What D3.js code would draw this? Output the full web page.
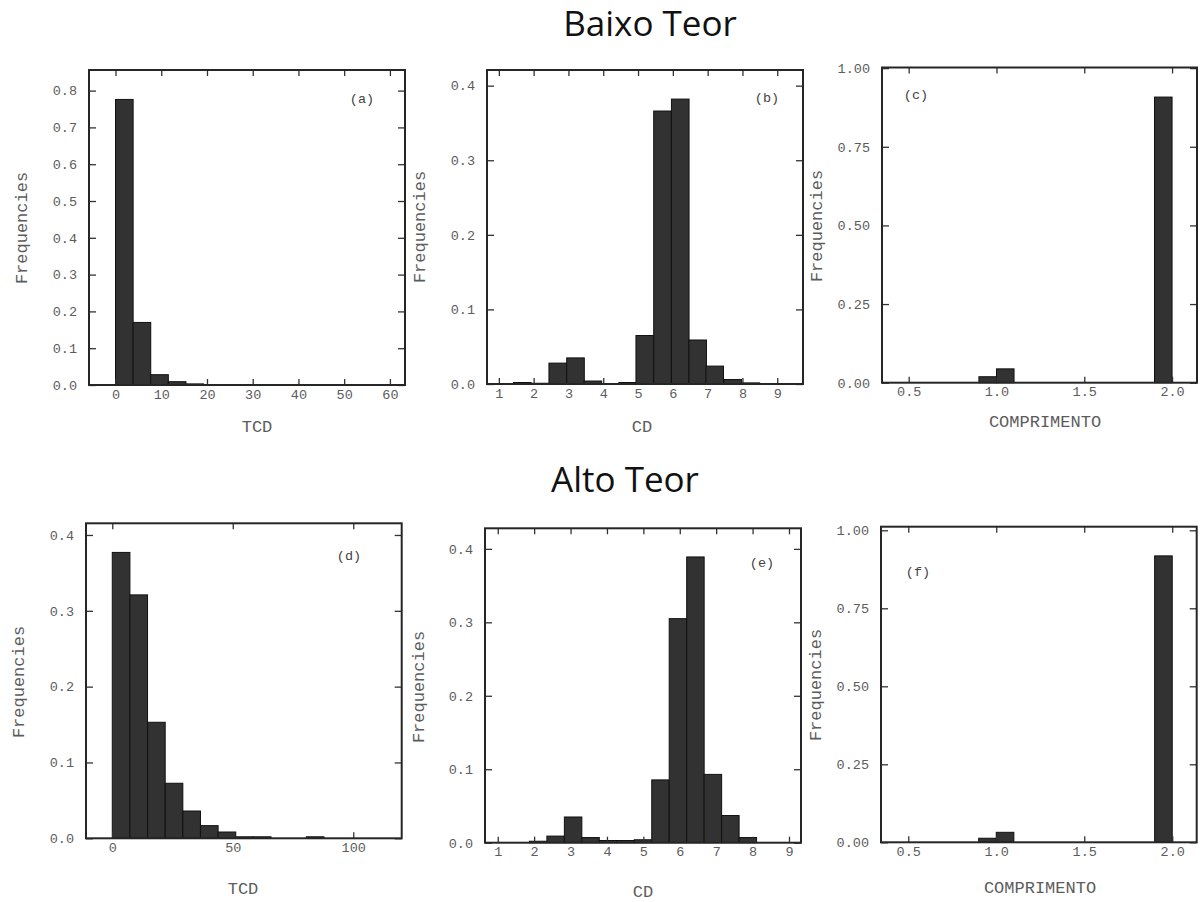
<!DOCTYPE html>
<html>
<head>
<meta charset="utf-8">
<script src="https://cdn.jsdelivr.net/npm/d3@7"></script>
<style>
  html, body { margin: 0; padding: 0; background: #ffffff; }
  svg { display: block; }
</style>
</head>
<body>
<svg id="chart" width="1202" height="902"></svg>
<script>
// ---- Histogram data: lower bin edges, bin widths and relative frequencies ----

// Baixo Teor
const tcdBaixoBins  = [0, 3.85, 7.7, 11.55, 15.4, 19.25];
const tcdBaixoWidth = 3.85;
const tcdBaixoFreq  = [0.776, 0.170, 0.028, 0.009, 0.003, 0.001];

const cdBaixoBins  = [1.42, 1.93, 2.44, 2.95, 3.45, 3.95, 4.45, 4.94, 5.45, 5.96, 6.46, 6.95, 7.47, 7.99];
const cdBaixoWidth = 0.506;
const cdBaixoFreq  = [0.002, 0.001, 0.028, 0.035, 0.004, 0, 0.002, 0.065, 0.366, 0.382, 0.059, 0.024, 0.006, 0.0015];

const compBaixoBins  = [0.9, 1.0, 1.9];
const compBaixoWidth = 0.1;
const compBaixoFreq  = [0.019, 0.044, 0.908];

// Alto Teor
const tcdAltoBins  = [0, 7.32, 14.64, 21.96, 29.28, 36.6, 43.92, 51.24, 58.56, 65.88, 73.2, 80.52];
const tcdAltoWidth = 7.32;
const tcdAltoFreq  = [0.377, 0.321, 0.153, 0.0726, 0.036, 0.0167, 0.0083, 0.002, 0.002, 0, 0, 0.002];

const cdAltoBins  = [1.87, 2.35, 2.83, 3.31, 3.79, 4.27, 4.75, 5.23, 5.71, 6.19, 6.67, 7.15, 7.63];
const cdAltoWidth = 0.48;
const cdAltoFreq  = [0.002, 0.009, 0.035, 0.007, 0.003, 0.003, 0.004, 0.0855, 0.305, 0.389, 0.093, 0.037, 0.007];

const compAltoBins  = [0.9, 1.0, 1.9];
const compAltoWidth = 0.1;
const compAltoFreq  = [0.013, 0.032, 0.918];

// ---- Tick values ----
const tcdBaixoTicks = [0, 10, 20, 30, 40, 50, 60];
const tcdAltoTicks  = [0, 50, 100];
const cdTicks       = [1, 2, 3, 4, 5, 6, 7, 8, 9];
const compTicks     = [0.5, 1.0, 1.5, 2.0];
const freqTicksHigh = [0, 0.1, 0.2, 0.3, 0.4, 0.5, 0.6, 0.7, 0.8];
const freqTicksLow  = [0, 0.1, 0.2, 0.3, 0.4];
const freqTicksUnit = [0, 0.25, 0.5, 0.75, 1.0];

const groupTitles = ["Baixo Teor", "Alto Teor"];
const yAxisTitle = "Frequencies";

// ---- Panel layout ----
const panels = [
  { tag: "(a)", box: [89, 70, 405, 385], xDom: [-5.8, 63.3], yDom: [0, 0.856],
    bins: tcdBaixoBins, width: tcdBaixoWidth, freq: tcdBaixoFreq,
    xTicks: tcdBaixoTicks, xFmt: d3.format("d"), yTicks: freqTicksHigh, yFmt: d3.format(".1f"),
    xLabel: "TCD", xLabelAt: [257, 426], yLabelAt: [21, 228], tagAt: [362, 98] },
  { tag: "(b)", box: [487, 70, 803, 384], xDom: [0.66, 9.74], yDom: [0, 0.421],
    bins: cdBaixoBins, width: cdBaixoWidth, freq: cdBaixoFreq,
    xTicks: cdTicks, xFmt: d3.format("d"), yTicks: freqTicksLow, yFmt: d3.format(".1f"),
    xLabel: "CD", xLabelAt: [642, 426], yLabelAt: [419, 227], tagAt: [767, 97] },
  { tag: "(c)", box: [882, 67.5, 1197, 382.7], xDom: [0.348, 2.142], yDom: [0, 1.002],
    bins: compBaixoBins, width: compBaixoWidth, freq: compBaixoFreq,
    xTicks: compTicks, xFmt: d3.format(".1f"), yTicks: freqTicksUnit, yFmt: d3.format(".2f"),
    xLabel: "COMPRIMENTO", xLabelAt: [1045, 421], yLabelAt: [816, 226], tagAt: [916, 94] },
  { tag: "(d)", box: [86, 523.3, 401.7, 838.3], xDom: [-10.9, 120.1], yDom: [0, 0.4154],
    bins: tcdAltoBins, width: tcdAltoWidth, freq: tcdAltoFreq,
    xTicks: tcdAltoTicks, xFmt: d3.format("d"), yTicks: freqTicksLow, yFmt: d3.format(".1f"),
    xLabel: "TCD", xLabelAt: [243, 888], yLabelAt: [18, 682], tagAt: [349, 555] },
  { tag: "(e)", box: [485, 528.3, 801, 842.7], xDom: [0.65, 9.33], yDom: [0, 0.428],
    bins: cdAltoBins, width: cdAltoWidth, freq: cdAltoFreq,
    xTicks: cdTicks, xFmt: d3.format("d"), yTicks: freqTicksLow, yFmt: d3.format(".1f"),
    xLabel: "CD", xLabelAt: [643, 891], yLabelAt: [418, 687], tagAt: [762, 562] },
  { tag: "(f)", box: [881, 526.7, 1196.7, 842.3], xDom: [0.345, 2.139], yDom: [0, 1.0115],
    bins: compAltoBins, width: compAltoWidth, freq: compAltoFreq,
    xTicks: compTicks, xFmt: d3.format(".1f"), yTicks: freqTicksUnit, yFmt: d3.format(".2f"),
    xLabel: "COMPRIMENTO", xLabelAt: [1040, 887], yLabelAt: [815, 685], tagAt: [918, 571] }
];

const MONO = "'Liberation Mono', 'DejaVu Sans Mono', monospace";
const TEXT_GREY = "#5c5c5c";
const svg = d3.select("#chart");

// Group titles
const titleAt = [[650, 36], [625, 492]];
groupTitles.forEach((t, i) => {
  svg.append("text")
    .attr("x", titleAt[i][0]).attr("y", titleAt[i][1])
    .attr("text-anchor", "middle")
    .attr("font-family", "'Open Sans', 'Noto Sans', sans-serif")
    .attr("font-size", 35)
    .attr("fill", "#111")
    .text(t);
});

panels.forEach(p => {
  const [x0, y0, x1, y1] = p.box;
  const x = d3.scaleLinear().domain(p.xDom).range([x0, x1]);
  const y = d3.scaleLinear().domain(p.yDom).range([y1, y0]);
  const g = svg.append("g");

  // bars
  g.selectAll("rect.bar")
    .data(p.bins.map((b, i) => ({ x0: b, x1: b + p.width, v: p.freq[i] })))
    .join("rect")
    .attr("class", "bar")
    .attr("x", d => x(d.x0))
    .attr("width", d => x(d.x1) - x(d.x0))
    .attr("y", d => y(d.v))
    .attr("height", d => y(0) - y(d.v))
    .attr("fill", "#323232")
    .attr("stroke", "#111")
    .attr("stroke-width", 1);

  const styleAxis = sel => {
    sel.select(".domain").remove();
    sel.selectAll(".tick line").attr("stroke", "#333").attr("stroke-width", 1.3);
    sel.selectAll(".tick text")
      .attr("font-family", MONO).attr("font-size", 13.5).attr("fill", TEXT_GREY);
  };

  // bottom / left axes with labels, ticks pointing inward
  g.append("g").attr("transform", `translate(0,${y1})`)
    .call(d3.axisBottom(x).tickValues(p.xTicks).tickFormat(p.xFmt).tickSize(-6).tickPadding(4))
    .call(styleAxis);
  g.append("g").attr("transform", `translate(${x0},0)`)
    .call(d3.axisLeft(y).tickValues(p.yTicks).tickFormat(p.yFmt).tickSize(-7).tickPadding(12))
    .call(styleAxis);
  // mirrored ticks on top / right
  g.append("g").attr("transform", `translate(0,${y0})`)
    .call(d3.axisTop(x).tickValues(p.xTicks).tickFormat("").tickSize(-6))
    .call(styleAxis);
  g.append("g").attr("transform", `translate(${x1},0)`)
    .call(d3.axisRight(y).tickValues(p.yTicks).tickFormat("").tickSize(-7))
    .call(styleAxis);

  // frame
  g.append("rect")
    .attr("x", x0).attr("y", y0)
    .attr("width", x1 - x0).attr("height", y1 - y0)
    .attr("fill", "none").attr("stroke", "#262626").attr("stroke-width", 2);

  // axis titles
  g.append("text")
    .attr("x", p.xLabelAt[0]).attr("y", p.xLabelAt[1]).attr("dy", "0.35em")
    .attr("text-anchor", "middle")
    .attr("font-family", MONO).attr("font-size", 17).attr("fill", TEXT_GREY)
    .text(p.xLabel);
  g.append("text")
    .attr("transform", `translate(${p.yLabelAt[0]},${p.yLabelAt[1]}) rotate(-90)`)
    .attr("dy", "0.35em")
    .attr("text-anchor", "middle")
    .attr("font-family", MONO).attr("font-size", 17).attr("fill", TEXT_GREY)
    .text(yAxisTitle);

  // panel tag
  g.append("text")
    .attr("x", p.tagAt[0]).attr("y", p.tagAt[1]).attr("dy", "0.35em")
    .attr("text-anchor", "middle")
    .attr("font-family", MONO).attr("font-size", 13.5).attr("fill", "#444")
    .text(p.tag);
});
</script>
</body>
</html>
